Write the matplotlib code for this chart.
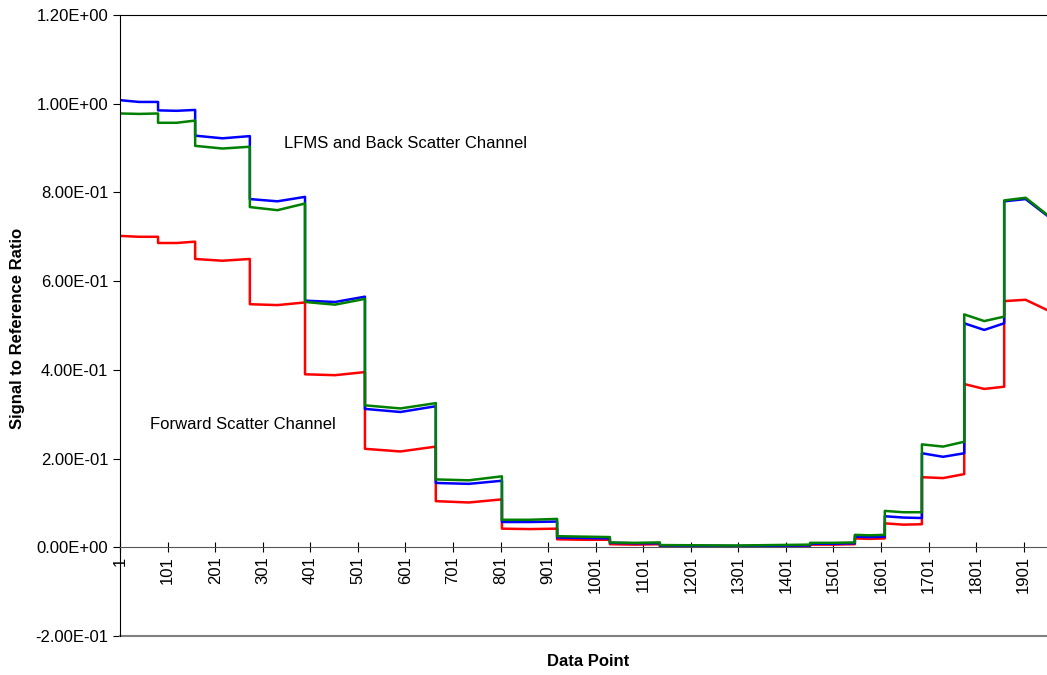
import numpy as np
import matplotlib
matplotlib.use("Agg")
import matplotlib.pyplot as plt

plt.rcParams['font.family'] = ['Liberation Sans', 'DejaVu Sans']

# first data point of each plateau, last data point of the run
seg_start = [1, 81, 159, 274, 390, 516, 665, 804, 920, 1031, 1136, 1452,
             1546, 1609, 1687, 1776, 1860]
last_point = 1950

# plateau levels read as (start, middle, end) of each segment
blue = [(1.008, 1.004, 1.004), (0.985, 0.984, 0.986), (0.928, 0.922, 0.927),
        (0.785, 0.780, 0.790), (0.556, 0.553, 0.565), (0.312, 0.305, 0.318),
        (0.145, 0.143, 0.150), (0.057, 0.057, 0.058), (0.022, 0.021, 0.020),
        (0.010, 0.009, 0.009), (0.004, 0.003, 0.004), (0.008, 0.008, 0.009),
        (0.024, 0.023, 0.024), (0.070, 0.067, 0.066), (0.212, 0.204, 0.212),
        (0.505, 0.490, 0.505), (0.780, 0.785, 0.748)]
green = [(0.978, 0.977, 0.978), (0.957, 0.957, 0.962), (0.905, 0.899, 0.903),
         (0.767, 0.760, 0.775), (0.553, 0.547, 0.560), (0.320, 0.313, 0.325),
         (0.153, 0.151, 0.160), (0.062, 0.062, 0.064), (0.025, 0.024, 0.023),
         (0.011, 0.010, 0.011), (0.005, 0.004, 0.006), (0.010, 0.010, 0.011),
         (0.028, 0.027, 0.028), (0.082, 0.079, 0.079), (0.232, 0.227, 0.238),
         (0.525, 0.510, 0.520), (0.782, 0.788, 0.750)]
red = [(0.702, 0.700, 0.700), (0.686, 0.686, 0.689), (0.650, 0.646, 0.650),
       (0.548, 0.546, 0.552), (0.390, 0.388, 0.395), (0.222, 0.216, 0.227),
       (0.104, 0.101, 0.108), (0.042, 0.041, 0.042), (0.018, 0.017, 0.017),
       (0.007, 0.006, 0.007), (0.002, 0.002, 0.003), (0.006, 0.006, 0.007),
       (0.020, 0.019, 0.020), (0.054, 0.051, 0.052), (0.158, 0.156, 0.165),
       (0.368, 0.357, 0.362), (0.555, 0.558, 0.535)]

x_ticks = list(range(1, 2000, 100))
y_ticks = [-0.2, 0.0, 0.2, 0.4, 0.6, 0.8, 1.0, 1.2]


def build(levels):
    xs, ys = [], []
    ends = seg_start[1:] + [last_point]
    for s, e, (a, m, b) in zip(seg_start, ends, levels):
        xs += [s, (s + e) / 2, e]
        ys += [a, m, b]
    return xs, ys


fig = plt.figure(figsize=(10.47, 6.75), dpi=100)
ax = fig.add_axes([120 / 1047, 1 - 636 / 675, 1 - 120 / 1047, (636 - 15) / 675])

for levels, col in [(red, '#ff0000'), (blue, '#0000ff'), (green, '#008000')]:
    xs, ys = build(levels)
    ax.plot(xs, ys, color=col, lw=1.8)

ax.set_xlim(1, last_point)
ax.set_ylim(-0.2, 1.2)

ax.spines['bottom'].set_position(('data', 0))
ax.spines['bottom'].set_color('#555555')
ax.spines['right'].set_visible(False)
ax.axhline(-0.2, color='#808080', lw=1.5, clip_on=False)

ax.set_xticks(x_ticks)
ax.set_xticklabels([str(v) for v in x_ticks], rotation=90, fontsize=12)
ax.tick_params(axis='x', direction='inout', length=7, width=0.8, pad=3)

ax.set_yticks(y_ticks)
ax.set_yticklabels([f"{v:.2E}" for v in y_ticks], fontsize=12)
ax.tick_params(axis='y', direction='out', length=5, width=0.8, pad=3.5)

ax.text(346, 0.911, "LFMS and Back Scatter Channel", fontsize=12, va='center')
ax.text(64, 0.277, "Forward Scatter Channel", fontsize=12, va='center')

fig.text(588 / 1047, 1 - 662 / 675, "Data Point", fontsize=12,
         fontweight='bold', ha='center', va='center')
fig.text(18 / 1047, 1 - 328 / 675, "Signal to Reference Ratio", fontsize=12,
         fontweight='bold', rotation=90, ha='center', va='center')

fig.savefig("out.png", dpi=100)
